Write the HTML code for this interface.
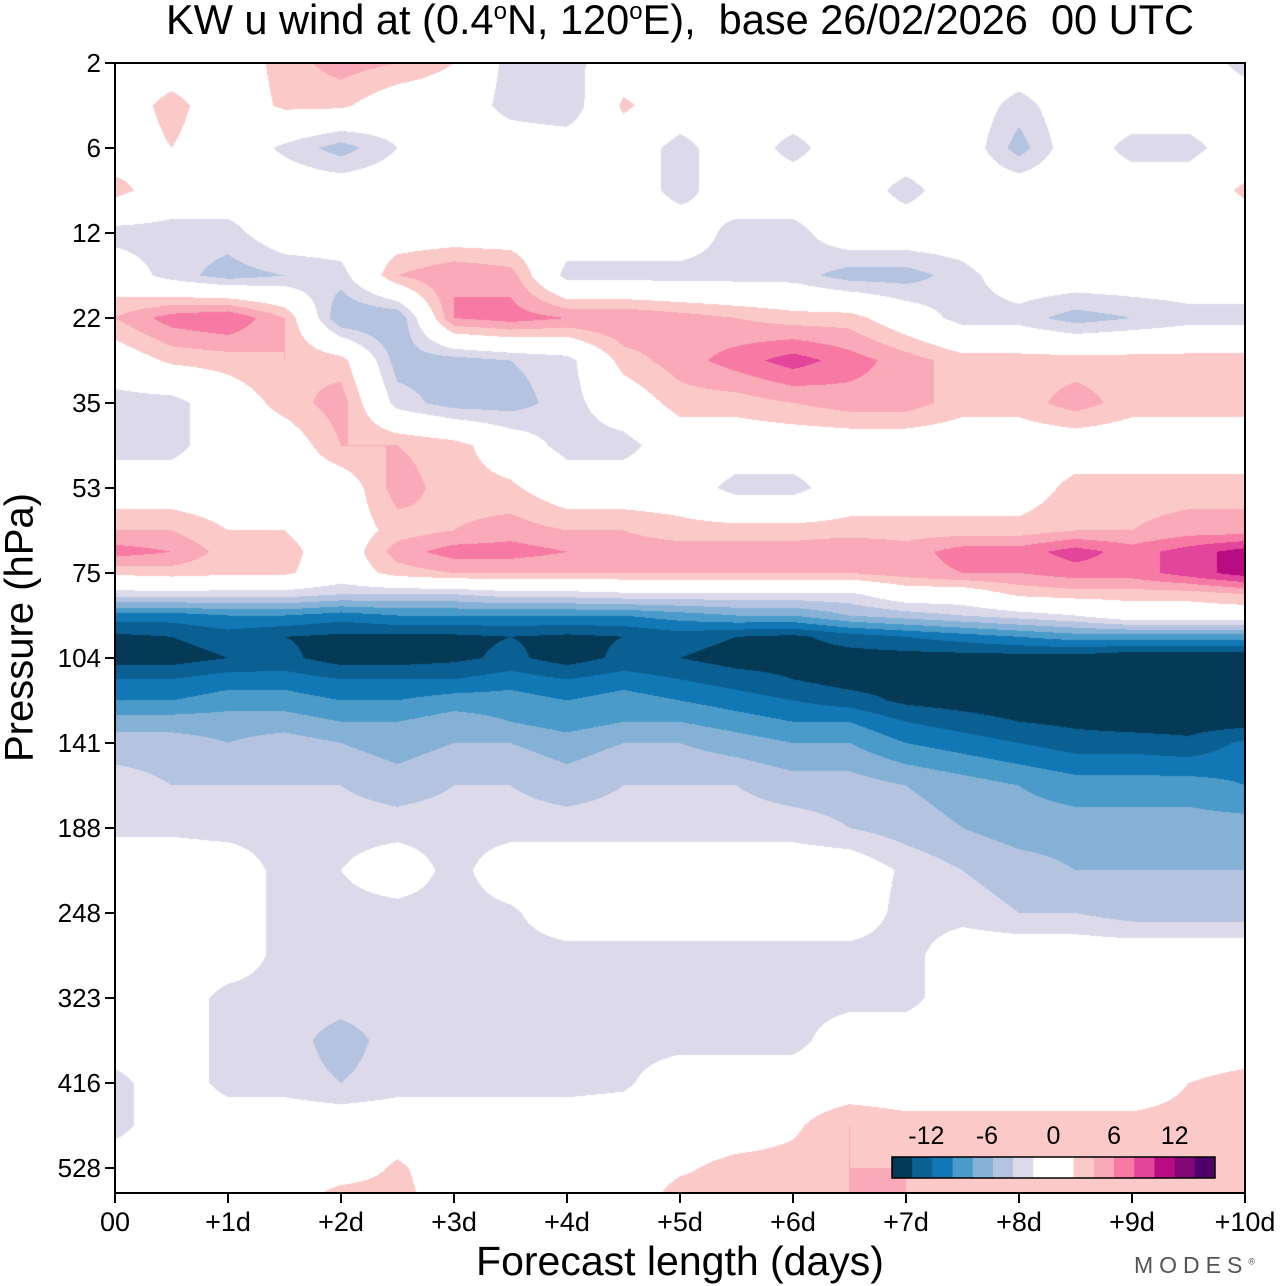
<!DOCTYPE html>
<html><head><meta charset="utf-8"><style>
body{margin:0;background:#fff;width:1280px;height:1286px;position:relative;overflow:hidden;font-family:"Liberation Sans",sans-serif;}
#plot{position:absolute;left:115px;top:63px;}
svg{position:absolute;left:0;top:0;}
</style></head><body>
<canvas id="plot" width="1130" height="1130"></canvas>
<svg id="ov" width="1280" height="1286"></svg>
<script>
const timeLabels=["00","+1d","+2d","+3d","+4d","+5d","+6d","+7d","+8d","+9d","+10d"];
const pressureLabels=["2","6","12","22","35","53","75","104","141","188","248","323","416","528"];
const cbLabels=[-12,-6,0,6,12];
const levelColors=["#053a56","#0a5f93","#1277b5","#4a9bc9","#86b1d6","#b4c4e0","#dcdaea","#ffffff","#ffffff","#fcc9c9","#f9a9b7","#f77aa4","#e2459a","#b90c83","#82087a","#4f006b"];
// row positions in pressure-tick units (category axis)
const rowLevels=[0,0.5,1,1.5,2,2.5,3,3.5,4,4.5,5,5.5,5.75,6,6.25,6.5,6.75,7,7.25,7.5,7.75,8,8.5,9,9.5,10,10.5,11,11.5,12,12.5,13,13.3];
// u wind values (m/s), 21 half-day steps per row
const uRows=[
[0,0,0,3,5,4,2,-3,-3,0,0,0,0,0,0,0,0,0,0,0,-3],
[0,3,0,2.5,2.5,0,0,-3,-4,2.5,0,0,0,0,0,0,-3,0,0,0,0],
[0,2,0,-2.5,-5,-2,0,0,0,0,-3,0,-3,0,0,0,-5,0,-3,-3,0],
[3,0,0,0,0,0,0,0,0,0,-3,0,0,0,-3,0,0,0,0,0,2.5],
[-3,-3,-3,0,0,0,0,0,0,0,0,-3,-3,0,0,0,2,0,0,0,0],
[0,-3,-5,-4,-3,4,6,5,-3,-3,-3,-3,-3,-5,-5,-3,0,0,0,0,0],
[4,7,8,4,-6,-6,6,7,6,6,5,4,3,3,0,-3,-3,-5,-4,-3,-3],
[0,2.5,3,4,3,-5,-5,-4,-3,3,5,7,9,7,5,3,3,3,3,3,3],
[-3,-3,0,3,5,-3,-5,-5,-3,0,3,3,4,5,5,3,3,5,3,3,3],
[-3,-3,0,0,4,4,3,0,-3,-3,0,0,0,0,0,0,0,0,0,0,0],
[0,0,0,0,0,5,3,2.5,0,0,0,-3,-3,0,0,0,0,3,3,3,3],
[4,4,2,2,0,3,4,5,4,4,3,3,3,3,3,3,3,4,4,5,5],
[7,6,3,3,0,5,7,7,6,5,5,5,5,6,5,7,7,9,7,9,11],
[2.5,3,2.5,2.5,0,3,4,4,4,4,4,4,4,4,5,6,6,7,7,9,11],
[-3,-3,-3,-3,-4,-4,-4,-3,-3,-2.5,-2.5,-2.5,-2.5,-2.5,0,0,2.5,3,3,3,4],
[-11,-11,-10,-10,-11,-10,-10,-10,-10,-10,-9,-8,-8,-6,-5,-4,-3,-2,0,0,0],
[-14.5,-14,-13,-14,-14.5,-14.5,-14.5,-14,-14.5,-14,-13,-14,-14.5,-13,-12,-11,-10,-9,-9,-9,-9],
[-15,-15,-14,-13.5,-15,-15,-14.5,-13.5,-15,-13.5,-14,-15,-15,-15,-15,-15,-15,-15,-16,-16,-16],
[-12,-12,-11,-11,-12,-12,-12,-11,-12,-11,-12,-13,-14,-15,-15,-15,-16,-16,-16,-16,-16],
[-10,-10,-9,-9,-10,-10,-9,-9,-10,-9,-10,-11,-12,-13,-14.5,-15,-15.5,-16,-16,-16,-16],
[-7,-7,-7,-7,-8,-8,-7,-8,-9,-8,-8,-9,-10,-10,-12,-13,-14,-14.5,-15,-15,-15],
[-5,-5,-6,-5,-6,-7,-6,-6,-7,-6,-6,-7,-8,-8,-10,-11,-12,-13,-13,-13.5,-11.5],
[-3,-4,-4,-4,-4,-5,-4,-4,-5,-4,-4,-4,-5,-5,-6,-7,-8,-9,-9,-9,-10],
[-2.5,-2.5,-3,-3,-3,-3,-3,-3,-3,-3,-3,-3,-3,-4,-5,-6,-7,-7,-7,-7,-7],
[0,0,0,-3,-2,0,-3,0,0,0,0,0,0,0,-2.5,-4,-5,-6,-6,-6,-6],
[0,0,0,-3,-3,-3,-3,-2.5,0,0,0,0,0,0,-3,-3,-4,-4,-5,-5,-5],
[0,0,0,-3,-3,-3,-3,-3,-3,-3,-3,-3,-3,-3,-3,0,0,0,0,0,0],
[0,0,-3,-3,-3,-3,-3,-3,-3,-3,-3,-3,-3,-3,-3,0,0,0,0,0,0],
[0,0,-3,-3,-5,-3,-3,-3,-3,-3,-3,-3,-3,0,0,0,0,0,0,0,0],
[-3,0,-3,-3,-4,-3,-3,-3,-3,-2.5,0,0,0,0,0,0,0,0,0,2,3],
[-3,0,0,0,0,0,0,0,0,0,0,0,1.5,4,3,3,3,3,3,3,3],
[0,0,0,0,0,2.5,0,0,0,0,1.5,3,3,4,4,3,3,3,3,3,3],
[0,0,0,0,3,3,0,0,0,0,3,3,3,4,4,3,3,3,3,3,3]
];
const X0=115,Y0=63,W=1130,H=1130,nT=uRows[0].length-1;
const xOfT=t=>X0+t*W/nT;            // t in half-days
const yOfLev=p=>Y0+p*85;            // p in tick units
function hex(c){return [parseInt(c.slice(1,3),16),parseInt(c.slice(3,5),16),parseInt(c.slice(5,7),16)];}
const rgb=levelColors.map(hex);
function colorIdx(v){let i=Math.floor(v/2)+8;return Math.max(0,Math.min(15,i));}
const cv=document.getElementById('plot'),ctx=cv.getContext('2d');
const img=ctx.createImageData(W,H);
for(let py=0;py<H;py++){
  const p=(py+0.5)/85;
  let r=0;while(r<rowLevels.length-2&&rowLevels[r+1]<p)r++;
  let fy=(p-rowLevels[r])/(rowLevels[r+1]-rowLevels[r]);fy=Math.max(0,Math.min(1,fy));
  const A=uRows[r],B=uRows[r+1];
  for(let px=0;px<W;px++){
    const t=(px+0.5)/W*nT;let c=Math.min(nT-1,Math.floor(t));const fx=t-c;
    const v=(A[c]*(1-fx)+A[c+1]*fx)*(1-fy)+(B[c]*(1-fx)+B[c+1]*fx)*fy;
    const col=rgb[colorIdx(v)],k=(py*W+px)*4;
    img.data[k]=col[0];img.data[k+1]=col[1];img.data[k+2]=col[2];img.data[k+3]=255;
  }
}
ctx.putImageData(img,0,0);
const svg=document.getElementById('ov'),NS='http://www.w3.org/2000/svg';
function mk(tag,attrs,txt){const e=document.createElementNS(NS,tag);for(const k in attrs)e.setAttribute(k,attrs[k]);if(txt!==undefined)e.textContent=txt;svg.appendChild(e);return e;}
let e=mk('rect',{x:X0,y:Y0,width:W,height:H,fill:'none',stroke:'#000','stroke-width':2});


pressureLabels.forEach((lab,i)=>{const y=yOfLev(i);
  let t=mk('line',{x1:X0-10,x2:X0,y1:y,y2:y,stroke:'#000','stroke-width':2});
  
  
  let l=mk('text',{x:X0-14,y:y+9,'text-anchor':'end','font-size':26},lab);
  
  
});
timeLabels.forEach((lab,i)=>{const x=xOfT(i*2);
  let t=mk('line',{x1:x,x2:x,y1:Y0+H,y2:Y0+H+10,stroke:'#000','stroke-width':2});
  
  
  let l=mk('text',{x:x,y:1231,'text-anchor':'middle','font-size':27},lab);
  
  
});
const cbX=892,cbW=323,cbY=1157,cbH=21;
levelColors.forEach((c,i)=>{let r=mk('rect',{x:cbX+i*cbW/16,y:cbY,width:cbW/16+0.5,height:cbH,fill:c});
  
  });
e=mk('rect',{x:cbX,y:cbY,width:cbW,height:cbH,fill:'none',stroke:'#000','stroke-width':1.5});


cbLabels.forEach(v=>{let l=mk('text',{x:cbX+cbW/2+v/2*cbW/16+(v<0?-6:0),y:1144,'text-anchor':'middle','font-size':25},String(v));
  
  });
</script>
<div style="position:absolute;left:0;width:1360px;top:-4px;text-align:center;font-size:41.5px;white-space:nowrap;">KW u wind at (0.4<sup style="font-size:24px">o</sup>N, 120<sup style="font-size:24px">o</sup>E),&nbsp; base 26/02/2026&nbsp; 00 UTC</div>
<div style="position:absolute;left:-130px;top:605px;width:300px;text-align:center;font-size:40px;transform:rotate(-90deg);white-space:nowrap;">Pressure (hPa)</div>
<div style="position:absolute;left:380px;width:600px;top:1238px;text-align:center;font-size:41px;white-space:nowrap;">Forecast length (days)</div>
<div style="position:absolute;left:1134px;top:1252px;font-size:23px;letter-spacing:6px;color:#555;">MODES<sup style="font-size:9px;letter-spacing:0">®</sup></div>
</body></html>
